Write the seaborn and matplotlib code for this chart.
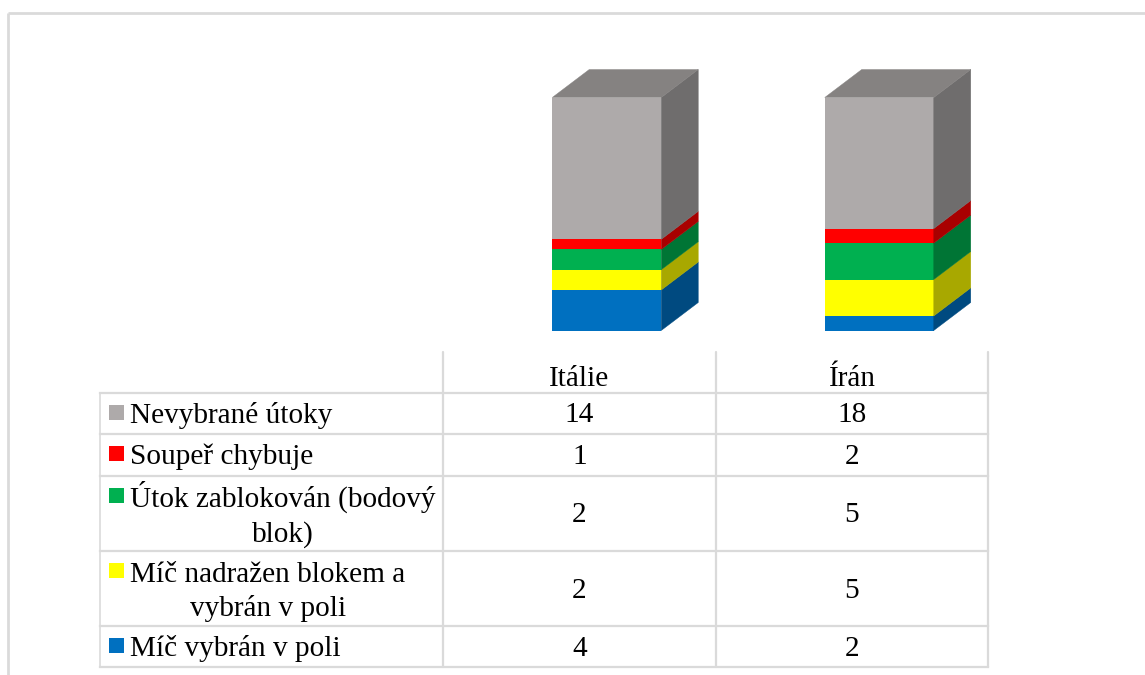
import numpy as np
import matplotlib
matplotlib.use("Agg")
import matplotlib.pyplot as plt
from matplotlib.patches import Polygon, Rectangle
import seaborn as sns

categories = ["Itálie", "Írán"]
series_names = ["Míč vybrán v poli", "Míč nadražen blokem a\nvybrán v poli",
                "Útok zablokován (bodový\nblok)", "Soupeř chybuje", "Nevybrané útoky"]
italie = [4, 2, 2, 1, 14]
iran = [2, 5, 5, 2, 18]
front_colors = ["#0070C0", "#FFFF00", "#00B050", "#FF0000", "#AEAAAA"]
side_colors = ["#004A80", "#A8A800", "#007535", "#A80000", "#6F6D6D"]
top_color = "#858281"

W, H = 1145, 675
sns.set_theme(style="white")
plt.rcParams["font.family"] = ["Liberation Serif", "DejaVu Serif"]
fig = plt.figure(figsize=(W / 100, H / 100), dpi=100, facecolor="white")

# Overlay in pixel coordinates for the frame and the data table
ov = fig.add_axes([0, 0, 1, 1], zorder=1)
ov.set_xlim(0, W); ov.set_ylim(H, 0); ov.axis("off")

# Chart axes
L, R, T, B = 470.5, 1015.5, 97.5, 330.5
ax = fig.add_axes([L / W, 1 - B / H, (R - L) / W, (B - T) / H], zorder=2)
ax.patch.set_alpha(0)

counts = np.array([italie, iran], dtype=float)
shares = counts / counts.sum(axis=1, keepdims=True)
bottoms = np.vstack([np.zeros(2), np.cumsum(shares, axis=1)[:, :-1].T])
BAR_W = 0.4
for k in range(len(series_names)):
    sns.barplot(x=categories, y=shares[:, k], bottom=bottoms[k], color=front_colors[k],
                saturation=1, width=BAR_W, ax=ax, errorbar=None, linewidth=0)
ax.set_xlim(-0.5, 1.5); ax.set_ylim(0, 1); ax.axis("off")

dx = 37 / ((R - L) / 2)
dy = 28 / (B - T)
for i in range(len(categories)):
    xl, xr = i - BAR_W / 2, i + BAR_W / 2
    for k in range(len(series_names)):
        y0 = bottoms[k][i]
        y1 = y0 + shares[i, k]
        ax.add_patch(Polygon([(xr, y0), (xr + dx, y0 + dy), (xr + dx, y1 + dy), (xr, y1)],
                             closed=True, fc=side_colors[k], ec=side_colors[k], lw=0.3, clip_on=False))
    ax.add_patch(Polygon([(xl, 1), (xl + dx, 1 + dy), (xr + dx, 1 + dy), (xr, 1)],
                         closed=True, fc=top_color, ec=top_color, lw=0.3, clip_on=False))

# Outer frame
grid = "#DADADA"
ov.plot([8, 8], [13, H], color=grid, lw=2, solid_capstyle="butt")
ov.plot([8, W], [13, 13], color=grid, lw=2, solid_capstyle="butt")

# Data table
row_edges = [393, 434, 475.5, 551, 626, 667]
col_edges = [100, 443, 716, 988]
table_top = 352
for y in row_edges:
    ov.plot([col_edges[0], col_edges[-1]], [y, y], color=grid, lw=1.6, solid_capstyle="projecting")
ov.plot([col_edges[0]] * 2, [row_edges[0], row_edges[-1]], color=grid, lw=1.2)
for x in col_edges[1:]:
    ov.plot([x, x], [table_top, row_edges[-1]], color=grid, lw=1.6)

fs = 21.1
col_centers = [(col_edges[j] + col_edges[j + 1]) / 2 for j in (1, 2)]
for c, name in zip(col_centers, categories):
    ov.text(c, 379, name, ha="center", va="center", fontsize=fs, color="black")

label_shift = [2, 2, 1, 3.5, 2]
for r, k in enumerate(range(len(series_names) - 1, -1, -1)):
    y0, y1 = row_edges[r], row_edges[r + 1]
    cy = (y0 + y1) / 2
    ov.add_patch(Rectangle((109, y0 + 12), 15, 15, fc=front_colors[k], ec="none"))
    ov.text(130, cy + label_shift[r], series_names[k], ha="left", va="center", multialignment="center",
            fontsize=fs, color="black", linespacing=1.37)
    ov.text(col_centers[0], cy + 2, f"{int(counts[0, k])}", ha="center", va="center", fontsize=fs, color="black")
    ov.text(col_centers[1], cy + 2, f"{int(counts[1, k])}", ha="center", va="center", fontsize=fs, color="black")

fig.savefig("out.png", dpi=100, facecolor="white")
